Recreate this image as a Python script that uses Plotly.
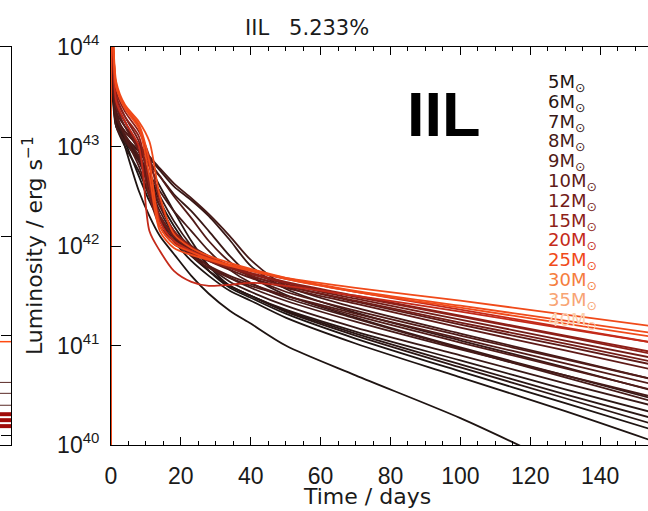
import numpy as np
import plotly.graph_objects as go

# ---------------- data ----------------
TIME = [0, 0.4, 1.5, 4, 8, 11, 14, 18, 23, 28, 34, 40, 50, 70, 100, 130, 160]  # days

# log10 luminosity (erg/s) for each model light curve
L05a = [39.5, 43.5, 43.3, 43.0, 42.55, 42.3, 42.1, 41.92, 41.7, 41.52, 41.35, 41.22, 41.0, 40.7, 40.27, 39.78, 39.3]
L05b = [39.5, 43.6, 43.25, 43.05, 42.7, 42.45, 42.25, 42.05, 41.85, 41.7, 41.55, 41.45, 41.28, 41.02, 40.68, 40.34, 39.98]
L05c = [39.5, 43.5, 43.2, 43.1, 42.9, 42.7, 42.45, 42.2, 41.95, 41.75, 41.58, 41.48, 41.32, 41.07, 40.74, 40.42, 40.1]
L06a = [39.5, 43.7, 43.3, 43.1, 42.95, 42.8, 42.6, 42.35, 42.05, 41.8, 41.6, 41.5, 41.34, 41.1, 40.78, 40.47, 40.16]
L06b = [39.5, 43.55, 43.2, 43.0, 42.75, 42.5, 42.3, 42.1, 41.9, 41.75, 41.6, 41.5, 41.35, 41.12, 40.81, 40.51, 40.22]
L06c = [39.5, 43.6, 43.25, 43.05, 42.85, 42.62, 42.4, 42.15, 41.92, 41.75, 41.6, 41.5, 41.36, 41.14, 40.85, 40.56, 40.28]
L07a = [39.5, 43.75, 43.3, 43.15, 43.0, 42.88, 42.76, 42.6, 42.46, 42.3, 42.06, 41.8, 41.57, 41.33, 41.05, 40.78, 40.5]
L07b = [39.5, 43.7, 43.25, 43.1, 42.95, 42.82, 42.7, 42.52, 42.35, 42.15, 41.9, 41.7, 41.51, 41.28, 40.98, 40.7, 40.42]
L07c = [39.5, 43.65, 43.28, 43.08, 42.9, 42.7, 42.5, 42.25, 42.0, 41.8, 41.64, 41.54, 41.4, 41.18, 40.9, 40.62, 40.35]
L08a = [39.5, 43.8, 43.35, 43.2, 43.02, 42.9, 42.78, 42.63, 42.48, 42.32, 42.1, 41.86, 41.6, 41.38, 41.12, 40.87, 40.62]
L08b = [39.5, 43.6, 43.2, 43.05, 42.88, 42.72, 42.55, 42.35, 42.15, 41.95, 41.76, 41.63, 41.48, 41.27, 40.97, 40.68, 40.39]
L08c = [39.5, 43.7, 43.3, 43.1, 42.85, 42.6, 42.35, 42.12, 41.93, 41.8, 41.68, 41.58, 41.45, 41.24, 40.96, 40.7, 40.44]
L09a = [39.5, 43.8, 43.3, 43.15, 43.0, 42.85, 42.7, 42.5, 42.28, 42.05, 41.84, 41.69, 41.54, 41.35, 41.1, 40.86, 40.62]
L09b = [39.5, 43.9, 43.35, 43.1, 42.8, 42.5, 42.25, 42.05, 41.9, 41.78, 41.68, 41.6, 41.5, 41.32, 41.07, 40.82, 40.57]
L09c = [39.5, 43.75, 43.3, 43.12, 42.9, 42.55, 42.28, 42.08, 41.92, 41.8, 41.7, 41.62, 41.5, 41.3, 41.03, 40.77, 40.51]
L10a = [39.5, 43.9, 43.4, 43.2, 42.95, 42.6, 42.3, 42.1, 41.95, 41.85, 41.76, 41.68, 41.58, 41.42, 41.18, 40.95, 40.72]
L10b = [39.5, 44.1, 43.45, 43.25, 43.0, 42.7, 42.4, 42.15, 42.0, 41.9, 41.8, 41.7, 41.6, 41.44, 41.21, 40.99, 40.77]
L12a = [39.5, 44.1, 43.5, 43.3, 43.05, 42.65, 42.3, 42.1, 41.97, 41.88, 41.8, 41.72, 41.62, 41.47, 41.26, 41.05, 40.84]
L12b = [39.5, 43.9, 43.4, 43.25, 42.95, 42.5, 42.2, 42.05, 41.95, 41.86, 41.78, 41.7, 41.6, 41.45, 41.23, 41.02, 40.8]
L15a = [39.5, 44.1, 43.55, 43.35, 43.15, 42.9, 42.45, 42.15, 41.99, 41.89, 41.8, 41.73, 41.64, 41.5, 41.3, 41.1, 40.9]
L15b = [39.5, 44.1, 43.5, 43.3, 43.1, 42.6, 42.2, 42.02, 41.93, 41.85, 41.78, 41.72, 41.63, 41.49, 41.29, 41.09, 40.88]
L20a = [39.5, 44.2, 43.6, 43.4, 43.2, 42.8, 42.25, 42.05, 41.95, 41.88, 41.81, 41.75, 41.67, 41.54, 41.36, 41.18, 41.0]
L20b = [39.5, 44.0, 43.45, 43.25, 43.0, 42.15, 41.95, 41.75, 41.64, 41.6, 41.61, 41.63, 41.6, 41.5, 41.34, 41.17, 41.0]
L25a = [39.5, 44.2, 43.65, 43.42, 43.25, 43.05, 42.5, 42.12, 41.98, 41.9, 41.83, 41.77, 41.68, 41.55, 41.4, 41.25, 41.1]
L25b = [39.5, 44.2, 43.6, 43.4, 43.22, 42.85, 42.2, 42.02, 41.94, 41.87, 41.81, 41.76, 41.67, 41.54, 41.38, 41.22, 41.06]
L25c = [39.5, 44.2, 43.6, 43.38, 43.18, 42.7, 42.15, 41.98, 41.91, 41.86, 41.8, 41.75, 41.68, 41.58, 41.45, 41.31, 41.17]

CURVES = [
    (5, L05a), (5, L05b), (5, L05c),
    (6, L06a), (6, L06b), (6, L06c),
    (7, L07a), (7, L07b), (7, L07c),
    (8, L08a), (8, L08b), (8, L08c),
    (9, L09a), (9, L09b), (9, L09c),
    (10, L10a), (10, L10b),
    (12, L12a), (12, L12b),
    (15, L15a), (15, L15b),
    (20, L20a), (20, L20b),
    (25, L25a), (25, L25b), (25, L25c),
]

MASSES = [5, 6, 7, 8, 9, 10, 12, 15, 20, 25, 30, 35, 40]
MASS_COLORS = ['#1e1412', '#2a1614', '#381816', '#451a18', '#511b18', '#5e1a17',
               '#731c17', '#8e1f18', '#c42a1a', '#f04a1a', '#f57d3e', '#f8a474', '#fcd0ae']

# partially visible neighbouring panel (left edge)
LEFT_X = [0, 10]
LEFT_ORANGE = [40.94, 40.94]
LEFT_RED = [[40.21, 40.21], [40.15, 40.15], [40.09, 40.09]]
LEFT_DARK = [[40.53, 40.53], [40.42, 40.42], [40.30, 40.30]]

TITLE = 'IIL\u00a0\u00a0\u00a05.233%'
YTICKS = [1e40, 1e41, 1e42, 1e43, 1e44]
YEXP = ['40', '41', '42', '43', '44']

# ---------------- figure ----------------
W, H = 648, 511
ML, MT, MB = 111, 47, 66
PH = H - MT - MB


def px_x(px):
    return px / W


def px_y(py):
    return (H - MB - py) / PH


color_of = dict(zip(MASSES, MASS_COLORS))
fig = go.Figure()

for m, vals in CURVES:
    fig.add_trace(go.Scatter(
        x=TIME, y=np.power(10.0, vals), mode='lines',
        line=dict(color=color_of[m], width=1.8, shape='spline', smoothing=0.8),
        xaxis='x', yaxis='y', hoverinfo='skip', showlegend=False))

# left sliver panel
for vals in LEFT_DARK:
    fig.add_trace(go.Scatter(x=LEFT_X, y=np.power(10.0, vals), mode='lines',
                             line=dict(color='#5a2a26', width=1), xaxis='x3', yaxis='y3',
                             hoverinfo='skip', showlegend=False))
for vals in LEFT_RED:
    fig.add_trace(go.Scatter(x=LEFT_X, y=np.power(10.0, vals), mode='lines',
                             line=dict(color='#a00a08', width=4), xaxis='x3', yaxis='y3',
                             hoverinfo='skip', showlegend=False))
fig.add_trace(go.Scatter(x=LEFT_X, y=np.power(10.0, LEFT_ORANGE), mode='lines',
                         line=dict(color='#ff4a10', width=1.5), xaxis='x3', yaxis='y3',
                         hoverinfo='skip', showlegend=False))

tickfont = dict(family='Liberation Sans', size=23, color='#1a1a1a')
yticktext = [f'10<sup><span style="font-size:15px">{e}</span></sup>' for e in YEXP]

fig.update_layout(
    width=W, height=H,
    margin=dict(l=0, r=0, t=MT, b=MB, pad=0, autoexpand=False),
    plot_bgcolor='white', paper_bgcolor='white',
    showlegend=False,
    xaxis=dict(domain=[ML / W, 1], anchor='y', range=[0, 153.7], automargin=False,
               showline=True, linecolor='black', linewidth=1, mirror='ticks',
               ticks='inside', ticklen=8, tickcolor='black', tickwidth=1,
               tickmode='linear', tick0=0, dtick=20,
               minor=dict(ticks='inside', ticklen=4, tick0=0, dtick=5, tickcolor='black', tickwidth=1),
               tickfont=tickfont, ticklabelstandoff=10,
               showgrid=False, zeroline=False),
    yaxis=dict(domain=[0, 1], anchor='x', type='log', range=[40, 44], automargin=False,
               showline=True, linecolor='black', linewidth=1,
               ticks='inside', ticklen=10, tickcolor='black',
               tickmode='array', tickvals=YTICKS, ticktext=yticktext,
               tickfont=tickfont, ticklabelstandoff=6,
               showgrid=False, zeroline=False),
    yaxis2=dict(overlaying='y', anchor='x', side='right', type='log', range=[40, 44],
                automargin=False,
                showline=False, ticks='inside', ticklen=6, tickcolor='black',
                tickmode='array', tickvals=YTICKS, showticklabels=False,
                showgrid=False, zeroline=False),
    xaxis3=dict(domain=[0, 11 / W], anchor='y3', range=[0, 10], automargin=False,
                showline=True, linecolor='black', linewidth=1, mirror=True,
                ticks='', showticklabels=False, showgrid=False, zeroline=False),
    yaxis3=dict(domain=[0, 1], anchor='x3', side='right', type='log', range=[39.9, 43.906],
                automargin=False,
                showline=True, linecolor='black', linewidth=1,
                ticks='inside', ticklen=10, tickcolor='black',
                tickmode='array', tickvals=YTICKS[:4], showticklabels=False,
                showgrid=False, zeroline=False),
)

ann = []
ann.append(dict(text=TITLE, x=px_x(307), y=px_y(28), xref='paper', yref='paper',
                showarrow=False, xanchor='center', yanchor='middle',
                font=dict(family='DejaVu Sans', size=21, color='#1a1a1a')))
ann.append(dict(text='Time / days', x=px_x(367), y=px_y(497), xref='paper', yref='paper',
                showarrow=False, xanchor='center', yanchor='middle',
                font=dict(family='DejaVu Sans', size=22, color='#1a1a1a')))
ann.append(dict(text='Luminosity / erg s<sup>\u22121</sup>', x=px_x(33), y=px_y(246),
                xref='paper', yref='paper', textangle=-90,
                showarrow=False, xanchor='center', yanchor='middle',
                font=dict(family='DejaVu Sans', size=22, color='#1a1a1a')))
ann.append(dict(text='<b>IIL</b>', x=px_x(444), y=px_y(114), xref='paper', yref='paper',
                showarrow=False, xanchor='center', yanchor='middle',
                font=dict(family='Liberation Sans', size=63, color='black')))
for i, (m, c) in enumerate(zip(MASSES, MASS_COLORS)):
    ann.append(dict(text=f'{m}M<sub>\u2299</sub>', x=px_x(546), y=px_y(83 + 19.8 * i),
                    xref='paper', yref='paper', showarrow=False,
                    xanchor='left', yanchor='middle',
                    font=dict(family='DejaVu Sans', size=18, color=c)))
fig.update_layout(annotations=ann)

fig.write_html('out.html', config={'displayModeBar': False},
               post_script="document.body.style.margin='0';document.body.style.overflow='hidden';")
